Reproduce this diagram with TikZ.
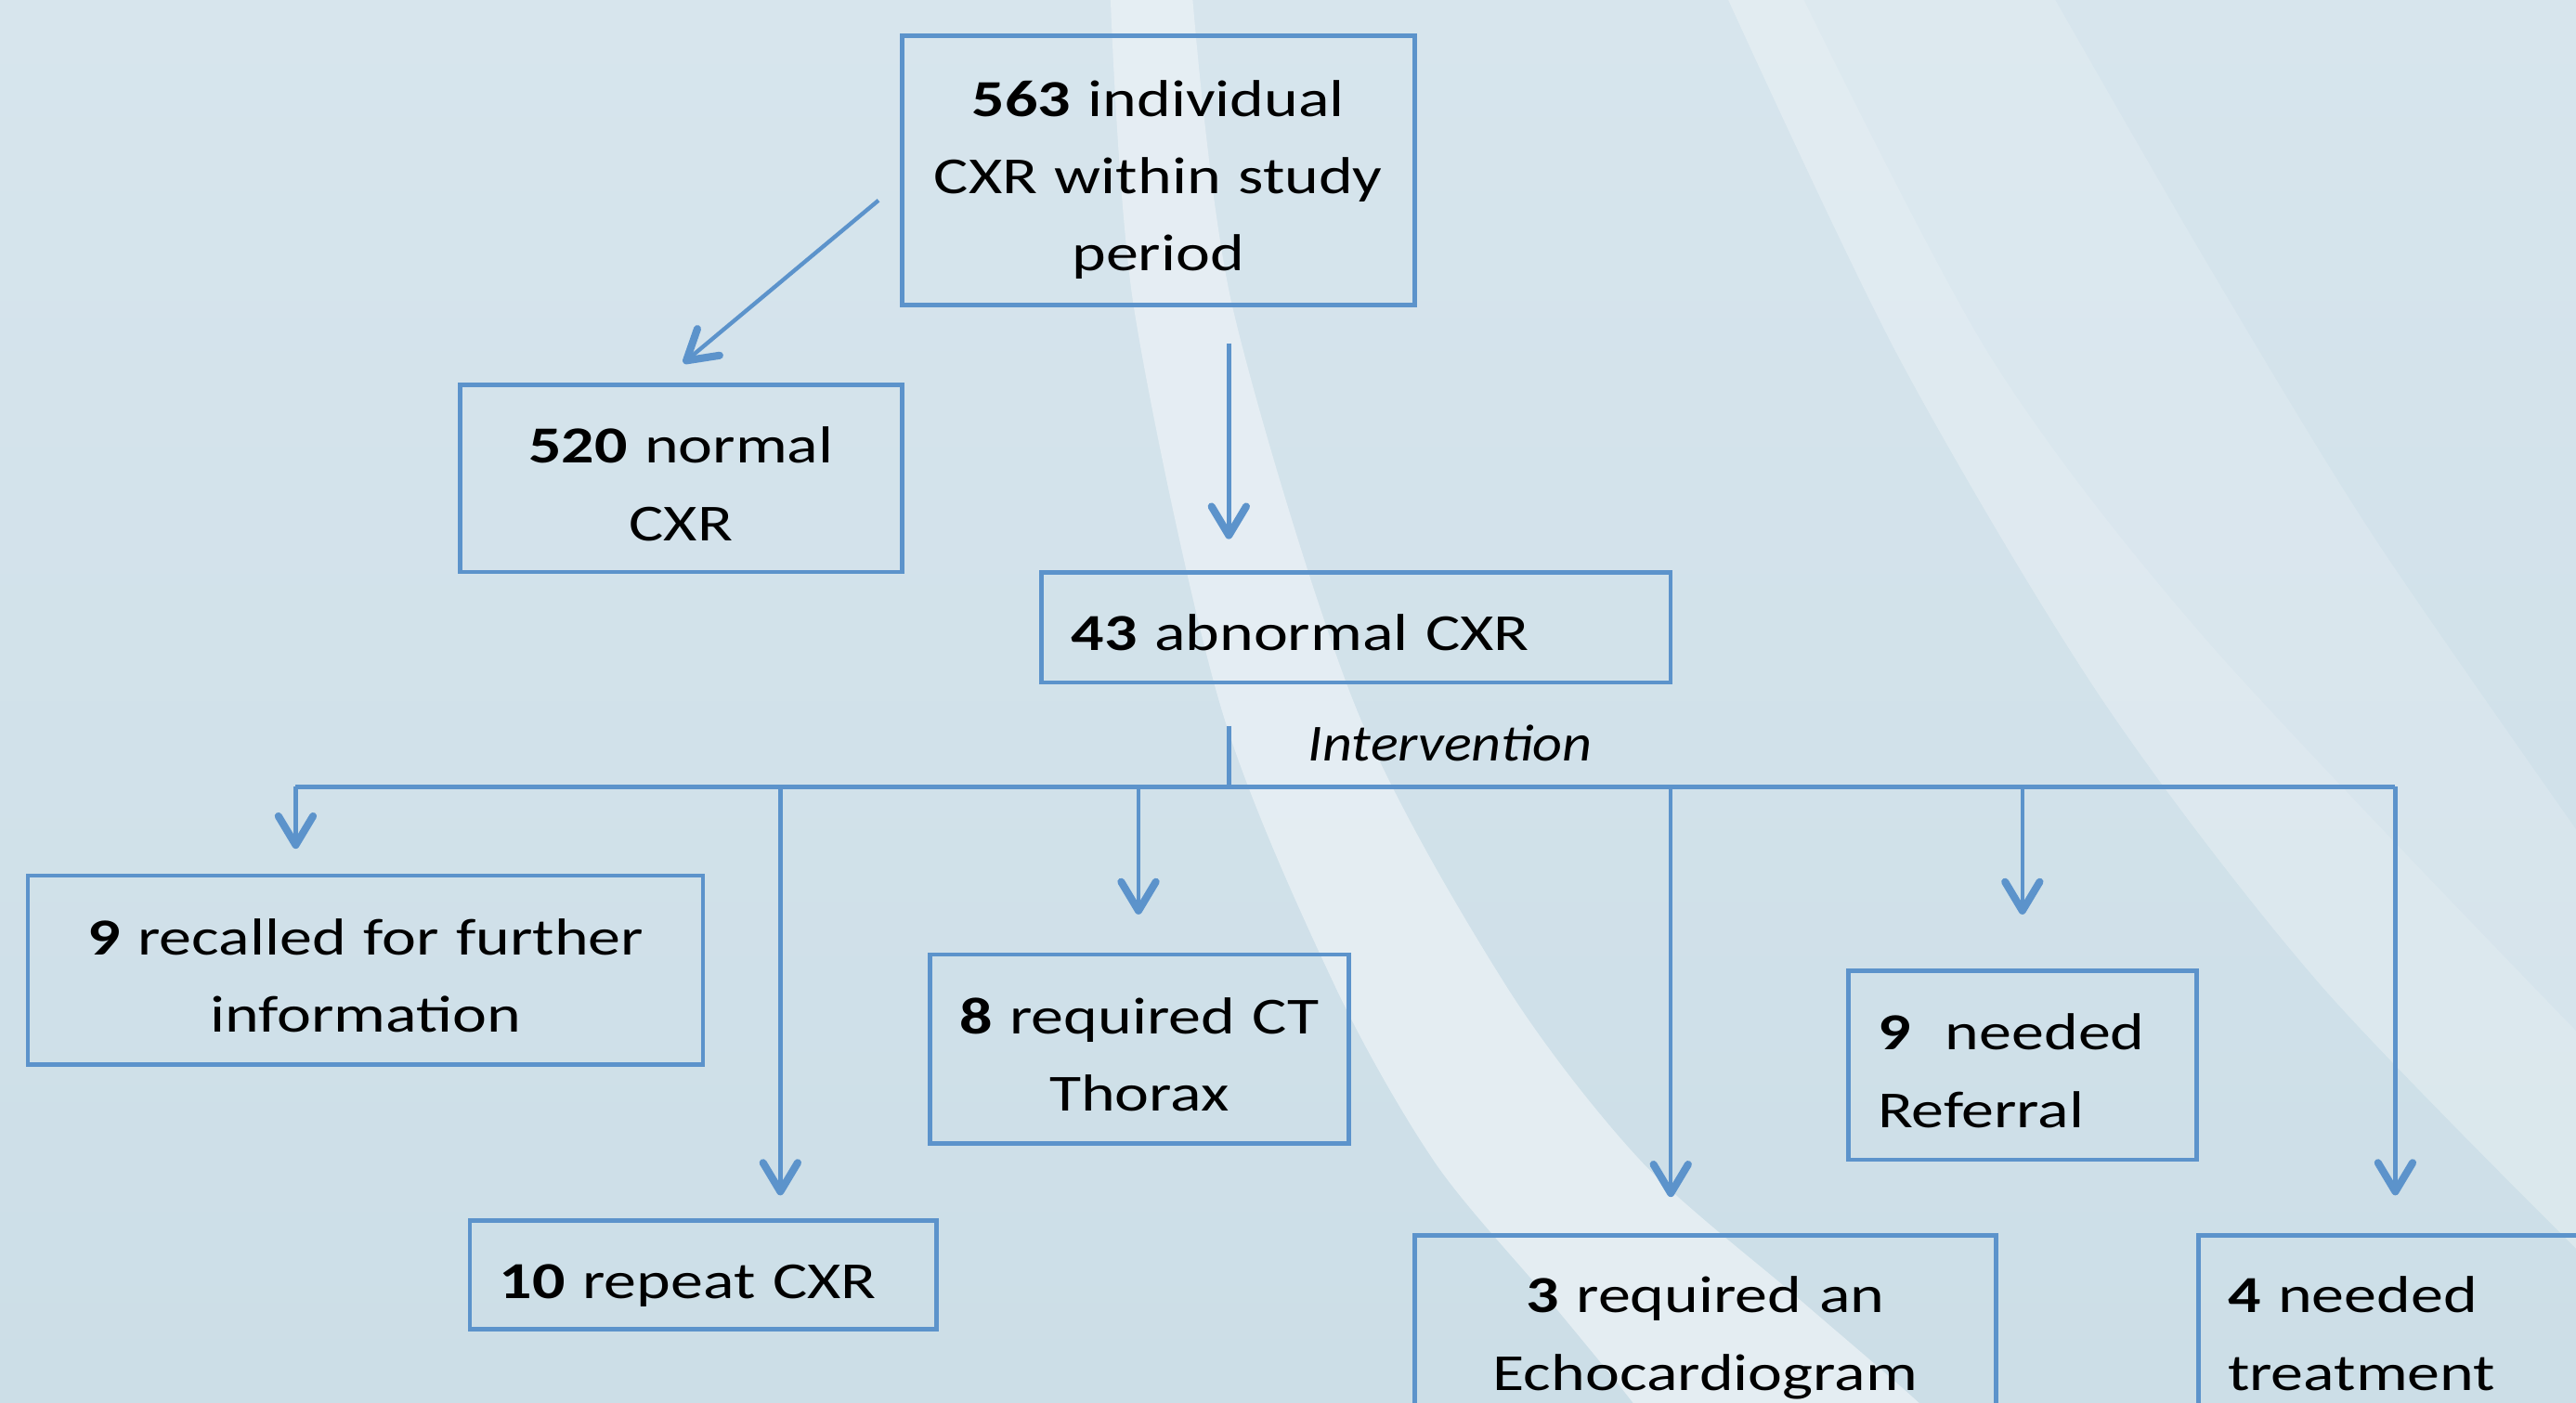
\documentclass[tikz,border=0pt]{standalone}
\usepackage{fontspec}
\setmainfont{Carlito}[FakeStretch=1.25, ItalicFeatures={FakeStretch=1.11}]
\usetikzlibrary{arrows.meta,calc}
\definecolor{bgtop}{HTML}{D7E5ED}
\definecolor{bgbot}{HTML}{CCDEE7}
\definecolor{swoosh}{HTML}{E7EFF4}
\definecolor{flowblue}{HTML}{5C93CB}
\newcommand*\cxrfont{\fontsize{18}{26.75}\selectfont}
\newcommand*\linestrut{\rule[-3.6pt]{0pt}{23.4pt}}
\tikzset{
  box/.style={draw=flowblue, line width=1.5pt, rectangle, inner xsep=0.36cm, inner ysep=0pt,
    font=\cxrfont, execute at begin node=\linestrut, execute at end node=\linestrut},
  boxc/.style={box, align=center},
  boxl/.style={box, align=left},
  line/.style={draw=flowblue, line width=1.4pt},
  flow/.style={line, -{Straight Barb[length=10pt,width=12pt,line width=2.6pt,round]}}
}

\begin{document}
\begin{tikzpicture}[x=0.02cm, y=-0.02cm]
		\useasboundingbox (0,0) rectangle (1568,854);
		\clip (0,0) rectangle (1568,854);
		% Background and swooshes
		\shade[top color=bgtop, bottom color=bgbot] (0,0) rectangle (1568,854);
		\fill[swoosh, opacity=0.9] plot[smooth] coordinates {(676,0) (690,186) (743,430) (812,599) (873,707) (941,789) (994,854) (1010,880)}
			-- plot[smooth] coordinates {(1190,880) (1168,854) (1093,789) (999,707) (916,599) (825,430) (750,186) (726,0)} -- cycle;
		\fill[white, opacity=0.16] plot[smooth] coordinates {(1052,0) (1156,218) (1279,425) (1412,599) (1580,772)}
			-- plot[smooth] coordinates {(1580,522) (1445,327) (1345,163) (1251,0)} -- cycle;
		\fill[white, opacity=0.15] plot[smooth] coordinates {(1052,0) (1156,218) (1279,425) (1412,599) (1580,772)}
			-- plot[smooth] coordinates {(1580,640) (1345,392) (1212,218) (1098,0)} -- cycle;

		% Boxes
		\node[boxc, text width=5.52cm, minimum width=6.24cm, minimum height=3.28cm] (n563) at (705,103.6) {\textbf{563} individual\\CXR within study\\period};
		\node[boxc, text width=4.66cm, minimum width=5.38cm, minimum height=2.28cm] (n520) at (414.5,291.3) {\textbf{520} normal\\CXR};
		\node[boxl, text width=6.94cm, minimum width=7.66cm, minimum height=1.34cm] (n43) at (825.5,382) {\textbf{43} abnormal CXR};
		\node[boxc, text width=7.50cm, minimum width=8.22cm, minimum height=2.30cm] (n9r) at (222.5,590.5) {\textbf{9} recalled for further\\information};
		\node[boxl, text width=4.96cm, minimum width=5.68cm, minimum height=1.32cm] (n10) at (428,776) {\textbf{10} repeat CXR};
		\node[boxc, text width=4.38cm, minimum width=5.10cm, minimum height=2.30cm] (n8) at (693.5,638.5) {\textbf{8} required CT\\Thorax};
		\node[boxl, text width=3.52cm, minimum width=4.24cm, minimum height=2.30cm] (n9n) at (1231,648.5) {\textbf{9}\ \ needed\\Referral};
		\node[boxc, text width=6.36cm, minimum width=7.08cm, minimum height=2.26cm] (n3) at (1038,808.5) {\textbf{3} required an\\Echocardiogram};
		\node[boxl, text width=5.28cm, minimum width=6.00cm, minimum height=2.26cm] (n4) at (1488,808.5) {\textbf{4} needed\\treatment};

		% Arrows
		\draw[flow] ($(n563.west)+(-13,18.4)$) -- ($(n520.north)+(1.5,-12)$);
		\draw[flow] ($(n563.south)+(43,22)$) -- ($(n43.north)+(-77.5,-19)$);
		\coordinate (bus) at (748,479);
		\draw[line] ($(n43.south)+(-77.5,25)$) -- (bus);
		\draw[line] (180,0 |- bus) -- (1458,0 |- bus);
		\node[font=\cxrfont\itshape, anchor=base west, inner sep=0pt] (interv) at ($(bus)+(48,-15.5)$) {Intervention};
		\foreach \dx/\tgt/\gap in {180/n9r/15, 475/n10/14, 693/n8/23, 1017/n3/22, 1231/n9n/33, 1458/n4/23}
			\draw[flow, shorten >=\gap*0.02cm] (\dx,0 |- bus) -- (\dx,0 |- \tgt.north);
	\end{tikzpicture}
\end{document}
